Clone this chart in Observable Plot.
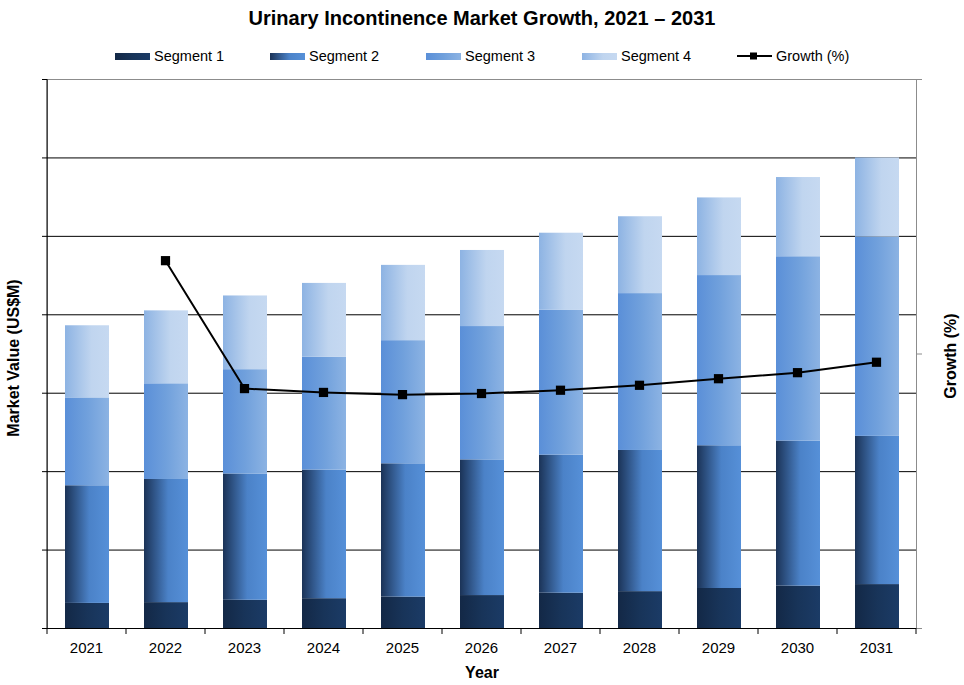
<!DOCTYPE html>
<html>
<head>
<meta charset="utf-8">
<script src="https://cdn.jsdelivr.net/npm/d3@7"></script>
<script src="https://cdn.jsdelivr.net/npm/@observablehq/plot@0.6"></script>
<style>
  body { margin: 0; background: #fff; font-family: "Liberation Sans", Arial, sans-serif; }
  #wrap { position: relative; width: 964px; height: 685px; overflow: hidden; }
  #title { position: absolute; top: 0; left: 0; width: 964px; height: 36px; line-height: 36px; text-align: center; font-weight: bold; font-size: 20px; color: #000; }
  #legend { position: absolute; top: 44px; left: 0; width: 964px; height: 24px; font-size: 14.5px; color: #000; }
  .item { position: absolute; top: 0; height: 24px; display: flex; align-items: center; white-space: nowrap; }
  .sw { width: 35px; height: 7px; margin-right: 4px; }
  #chart { position: absolute; top: 74px; left: 0; }
</style>
</head>
<body>
<div id="wrap">
  <div id="title"></div>
  <div id="legend"></div>
  <div id="chart"></div>
</div>
<script>
// ---- data ----
const title = "Urinary Incontinence Market Growth, 2021 – 2031";
const years = ["2021","2022","2023","2024","2025","2026","2027","2028","2029","2030","2031"];
const segments = ["Segment 1","Segment 2","Segment 3","Segment 4"];
const segment1 = [0.32, 0.33, 0.36, 0.38, 0.40, 0.42, 0.45, 0.47, 0.51, 0.54, 0.56];
const segment2 = [1.50, 1.57, 1.61, 1.64, 1.70, 1.73, 1.76, 1.80, 1.82, 1.85, 1.89];
const segment3 = [1.12, 1.22, 1.33, 1.44, 1.57, 1.70, 1.85, 2.00, 2.17, 2.35, 2.54];
const segment4 = [0.92, 0.93, 0.94, 0.94, 0.96, 0.97, 0.98, 0.98, 0.99, 1.01, 1.01];
const growthYears = ["2022","2023","2024","2025","2026","2027","2028","2029","2030","2031"];
const growth = [6.70, 4.37, 4.30, 4.26, 4.28, 4.34, 4.43, 4.55, 4.66, 4.85];
const valueTicks = [0, 1, 2, 3, 4, 5, 6, 7];
const growthTicks = [0, 5, 10];
const valueMax = 7;
const growthMax = 10;
const yLabel = "Market Value (US$M)";
const y2Label = "Growth (%)";
const xLabel = "Year";

// ---- styles ----
const gradients = {
  "Segment 1": [[0, "#132846"], [0.5, "#183459"], [1, "#1b3b66"]],
  "Segment 2": [[0, "#1b3357"], [0.55, "#4b82c8"], [1, "#5690d8"]],
  "Segment 3": [[0, "#5a8fd8"], [0.5, "#70a0dc"], [1, "#8cb3e3"]],
  "Segment 4": [[0, "#8db3e3"], [0.6, "#c0d5ef"], [1, "#c6d9f1"]]
};
const gradId = s => "grad" + segments.indexOf(s);
const legendX = [115, 270, 426, 582, 737];

const W = 964, H = 611, mL = 47, mR = 48, mT = 5, mB = 57;
const halfStep = (W - mL - mR) / years.length / 2;

// ---- table ----
const segValues = [segment1, segment2, segment3, segment4];
const rows = [];
years.forEach((y, i) => segments.forEach((s, j) => rows.push({year: y, segment: s, value: segValues[j][i]})));
const growthRows = growthYears.map((y, i) => ({year: y, growth: growth[i]}));
const g2v = g => g * valueMax / growthMax;

document.getElementById("title").textContent = title;

const chart = Plot.plot({
  width: W, height: H,
  marginLeft: mL, marginRight: mR, marginTop: mT, marginBottom: mB,
  style: {fontFamily: '"Liberation Sans", Arial, sans-serif', fontSize: "15px", color: "#000", background: "#fff"},
  x: {type: "band", domain: years, paddingInner: 0.44, paddingOuter: 0.22, label: null},
  y: {domain: [0, valueMax], label: null},
  color: {type: "ordinal", domain: segments, range: segments.map(s => `url(#${gradId(s)})`)},
  marks: [
    Plot.frame({stroke: "#8c8c8c"}),
    Plot.ruleY(valueTicks.slice(1, -1), {stroke: "#000", strokeWidth: 1}),
    Plot.barY(rows, {x: "year", y: "value", fill: "segment", dx: 1}),
    Plot.ruleY([0], {stroke: "#000", strokeWidth: 1}),
    Plot.ruleX([years[0]], {x: d => d, dx: -halfStep, stroke: "#000", strokeWidth: 1}),
    Plot.axisY({ticks: valueTicks, tickFormat: () => "", tickSize: 5, stroke: "#000"}),
    Plot.axisY({anchor: "right", ticks: growthTicks.map(g2v), tickFormat: () => "", tickSize: 5, stroke: "#8c8c8c"}),
    Plot.axisX({ticks: years, tickFormat: () => "", tickSize: 6, dx: -halfStep, stroke: "#000"}),
    Plot.axisX({ticks: [years[years.length - 1]], tickFormat: () => "", tickSize: 6, dx: halfStep, stroke: "#000"}),
    Plot.axisX({ticks: years, tickSize: 0, tickPadding: 14, fill: "#000", fontSize: 15}),
    Plot.line(growthRows, {x: "year", y: d => g2v(d.growth), stroke: "#000", strokeWidth: 2}),
    Plot.dot(growthRows, {x: "year", y: d => g2v(d.growth), symbol: "square", r: 5.2, fill: "#000", stroke: "none"}),
    Plot.text([yLabel], {frameAnchor: "left", textAnchor: "middle", dx: -34, dy: 4, rotate: -90, fontWeight: "bold", fontSize: 16, fill: "#000"}),
    Plot.text([y2Label], {frameAnchor: "right", textAnchor: "middle", dx: 34, dy: 2, rotate: -90, fontWeight: "bold", fontSize: 16, fill: "#000"}),
    Plot.text([xLabel], {frameAnchor: "bottom", textAnchor: "middle", dy: 49, fontWeight: "bold", fontSize: 16, fill: "#000"})
  ]
});

// gradients
const svg = chart.tagName.toLowerCase() === "svg" ? chart : chart.querySelector("svg");
const defs = d3.select(svg).insert("defs", ":first-child");
segments.forEach(s => {
  const lg = defs.append("linearGradient").attr("id", gradId(s)).attr("x1", 0).attr("x2", 1).attr("y1", 0).attr("y2", 0);
  gradients[s].forEach(([o, c]) => lg.append("stop").attr("offset", o).attr("stop-color", c));
});
document.getElementById("chart").appendChild(chart);

// legend
const legend = document.getElementById("legend");
segments.forEach((s, i) => {
  const it = document.createElement("div");
  it.className = "item";
  it.style.left = legendX[i] + "px";
  const sw = document.createElement("div");
  sw.className = "sw";
  sw.style.background = "linear-gradient(to right, " + gradients[s].map(([o, c]) => `${c} ${o * 100}%`).join(", ") + ")";
  it.appendChild(sw);
  it.appendChild(document.createTextNode(s));
  legend.appendChild(it);
});
{
  const it = document.createElement("div");
  it.className = "item";
  it.style.left = legendX[4] + "px";
  it.innerHTML = '<svg width="35" height="10" style="margin-right:4px"><line x1="0" x2="35" y1="5" y2="5" stroke="#000" stroke-width="2"/><rect x="13" y="1.5" width="7" height="7" fill="#000"/></svg>';
  it.appendChild(document.createTextNode(y2Label));
  legend.appendChild(it);
}
</script>
</body>
</html>
